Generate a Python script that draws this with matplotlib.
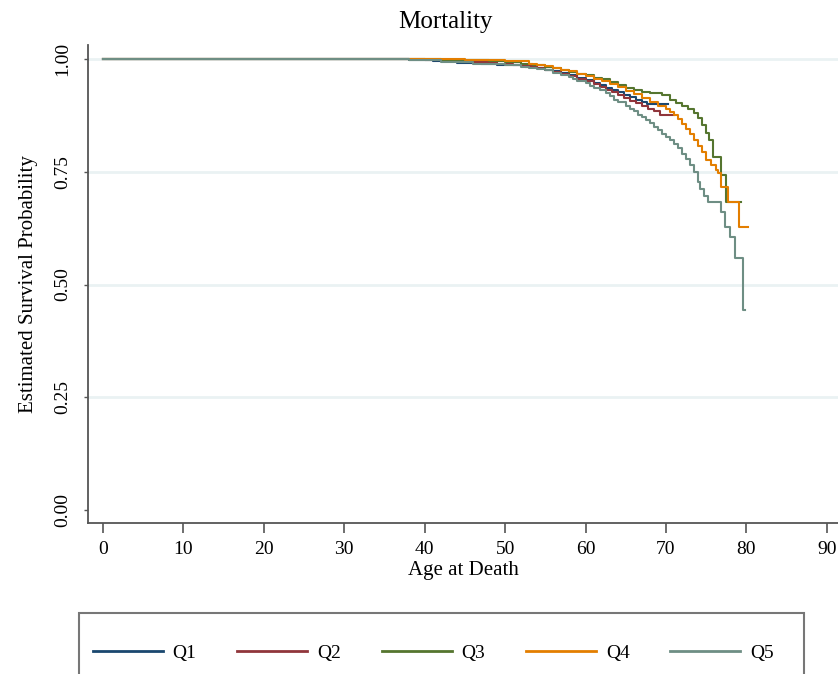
import matplotlib
matplotlib.use('Agg')
import matplotlib.pyplot as plt
from matplotlib.patches import Rectangle

plt.rcParams['font.family'] = ['Liberation Serif', 'DejaVu Serif']

# Kaplan-Meier style step points (age, survival)
q1_age = [0, 38, 41, 44, 47, 49, 51, 52.5, 54, 55, 56, 57, 58, 59, 60, 61, 61.8, 62.5, 63.3, 64, 64.8,
          65.5, 66.3, 67, 67.7, 68.5, 70.2]
q1_surv = [1.0, 0.997, 0.995, 0.992, 0.99, 0.988, 0.986, 0.983, 0.98, 0.977, 0.973, 0.969, 0.964, 0.959,
           0.953, 0.947, 0.942, 0.937, 0.932, 0.927, 0.921, 0.915, 0.91, 0.905, 0.90, 0.90, 0.90]

q2_age = [0, 40, 43, 46, 49, 51, 52.5, 54, 55, 56, 57, 58, 59, 60, 61, 61.8, 62.5, 63.3, 64, 64.8, 65.5,
          66.3, 67, 67.8, 68.5, 69.3, 71]
q2_surv = [1.0, 0.998, 0.996, 0.993, 0.99, 0.987, 0.984, 0.98, 0.976, 0.972, 0.968, 0.963, 0.957, 0.951,
           0.944, 0.938, 0.932, 0.926, 0.92, 0.914, 0.908, 0.902, 0.896, 0.89, 0.884, 0.876, 0.876]

q3_age = [0, 42, 45, 48, 50, 52, 53.5, 55, 56, 57, 58, 59, 60, 61, 62, 63, 64, 65, 66, 67, 68, 69.5,
          70.5, 71.3, 72, 72.8, 73.5, 74, 74.5, 75, 75.3, 75.8, 76.9, 77.5, 79.3]
q3_surv = [1.0, 0.999, 0.997, 0.995, 0.993, 0.99, 0.987, 0.983, 0.98, 0.976, 0.972, 0.968, 0.964, 0.959,
           0.955, 0.949, 0.943, 0.937, 0.931, 0.927, 0.925, 0.92, 0.91, 0.903, 0.896, 0.89, 0.88, 0.87,
           0.855, 0.836, 0.82, 0.783, 0.743, 0.683, 0.683]

q4_age = [0, 45, 50, 53, 54, 55, 56, 57, 58, 59, 60, 61, 62, 63, 64, 65, 66, 67, 68, 69, 70, 70.5,
          71, 71.5, 72, 72.5, 73, 73.5, 74, 74.5, 75, 75.6, 76.2, 76.5, 76.8, 77.7, 79.1, 80.2]
q4_surv = [1.0, 0.998, 0.995, 0.99, 0.988, 0.985, 0.981, 0.977, 0.973, 0.968, 0.962, 0.957, 0.951,
           0.945, 0.938, 0.93, 0.922, 0.914, 0.906, 0.897, 0.89, 0.882, 0.875, 0.868, 0.857, 0.845,
           0.833, 0.82, 0.808, 0.795, 0.776, 0.765, 0.755, 0.747, 0.716, 0.683, 0.627, 0.627]

q5_age = [0, 38, 42, 46, 50, 52, 53, 54, 55, 56, 57, 58, 58.5, 59, 60, 60.5, 61, 61.8, 62.5, 63, 63.5,
          64, 65, 65.5, 66, 66.5, 67, 67.5, 68, 68.5, 69, 69.5, 70, 70.5, 71, 71.5, 72, 72.5, 73, 73.5,
          74, 74.3, 74.7, 75.2, 76.9, 77.4, 78, 78.6, 79.6, 79.8]
q5_surv = [1.0, 0.998, 0.993, 0.99, 0.986, 0.983, 0.98, 0.978, 0.975, 0.97, 0.965, 0.96, 0.957, 0.952,
           0.946, 0.941, 0.937, 0.931, 0.925, 0.918, 0.91, 0.906, 0.896, 0.89, 0.884, 0.876, 0.872,
           0.865, 0.858, 0.85, 0.843, 0.835, 0.828, 0.82, 0.812, 0.802, 0.79, 0.778, 0.765, 0.75,
           0.728, 0.712, 0.697, 0.683, 0.66, 0.627, 0.605, 0.559, 0.443, 0.443]

series = [('Q1', q1_age, q1_surv, '#1a476f'),
          ('Q2', q2_age, q2_surv, '#90353b'),
          ('Q3', q3_age, q3_surv, '#55752f'),
          ('Q4', q4_age, q4_surv, '#e37e00'),
          ('Q5', q5_age, q5_surv, '#6e8e84')]

x_ticks = [0, 10, 20, 30, 40, 50, 60, 70, 80, 90]
y_ticks = [0.0, 0.25, 0.5, 0.75, 1.0]

fig = plt.figure(figsize=(8.38, 6.74), dpi=100)
ax = fig.add_axes([0.105, 0.224, 0.895, 0.709])

for name, age, surv, col in series:
    ax.plot(age, surv, drawstyle='steps-post', color=col, lw=1.5, label=name)

ax.set_xlim(-1.87, 91.4)
ax.set_ylim(-0.029, 1.031)
ax.set_xticks(x_ticks)
ax.set_yticks(y_ticks)
ax.set_yticklabels(['%.2f' % v for v in y_ticks], rotation=90, va='center')
ax.tick_params(axis='x', length=7, width=1.2, color='#555555', labelsize=14, pad=6)
ax.tick_params(axis='y', length=3, width=1, color='#555555', labelsize=14, pad=9)

for s in ['top', 'right']:
    ax.spines[s].set_visible(False)
for s in ['left', 'bottom']:
    ax.spines[s].set_color('#555555')
    ax.spines[s].set_linewidth(1.3)

ax.yaxis.grid(True, color='#eaf2f3', lw=2)
ax.get_ygridlines()[0].set_visible(False)
ax.set_axisbelow(True)

ax.set_xlabel('Age at Death', fontsize=15, labelpad=2)
ax.set_ylabel('Estimated Survival Probability', fontsize=15, labelpad=12)
fig.text(0.531, 0.967, 'Mortality', fontsize=18, ha='center', va='center')

# legend box runs off the bottom of the picture
fig.patches.append(Rectangle((0.094, -0.05), 0.866, 0.1405, transform=fig.transFigure,
                             fill=False, edgecolor='#777777', lw=1.5))
handles, labels = ax.get_legend_handles_labels()
fig.legend(handles, labels, ncol=5, frameon=False, loc='center left',
           bbox_to_anchor=(0.111, 1 - 653 / 674), borderpad=0, borderaxespad=0,
           handlelength=3.6, handletextpad=0.5, columnspacing=2.1, fontsize=14)
for line in fig.legends[0].get_lines():
    line.set_linewidth(2)

fig.savefig('out.png', dpi=100)
